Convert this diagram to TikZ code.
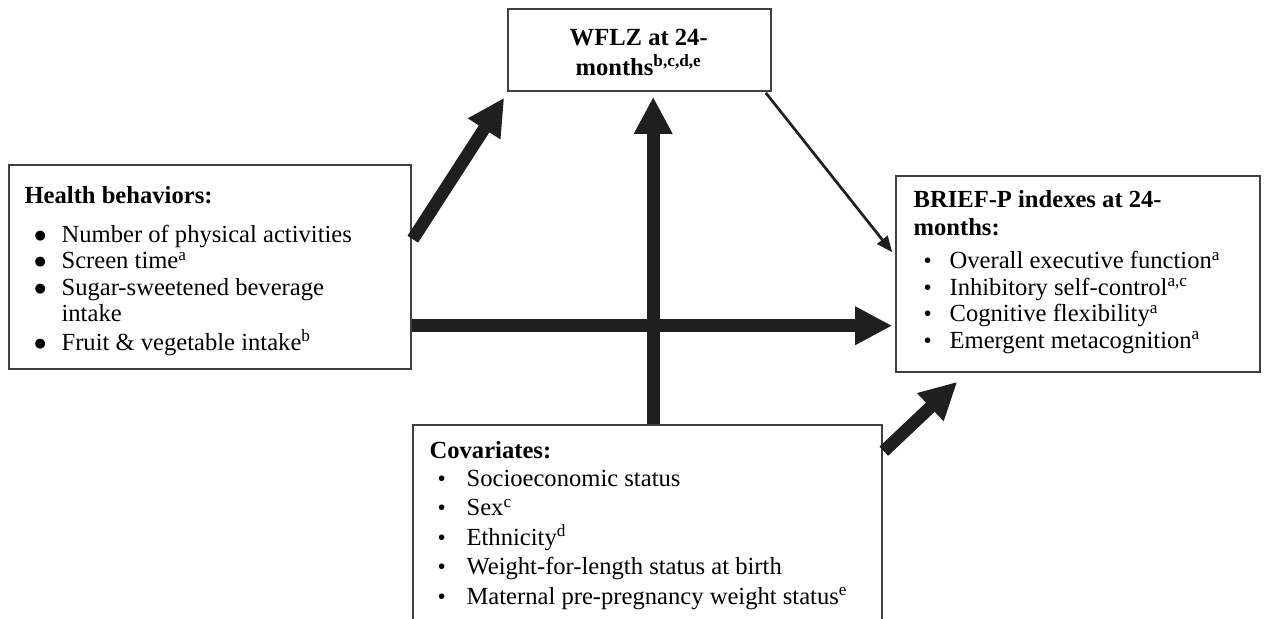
\documentclass[tikz,border=0pt]{standalone}
\usepackage{fontspec}
\usepackage{graphicx}
\setmainfont{Liberation Serif}
\newfontfamily\dejavu{DejaVu Sans}
\usetikzlibrary{arrows.meta,calc}
\newcommand\hbul{\makebox[18.5pt][l]{\hspace{5pt}\raisebox{1.4pt}{\dejavu\fontsize{6.5pt}{6.5pt}\selectfont ●}}}
\newcommand\rbul{\makebox[18pt][l]{\hspace{5pt}\raisebox{0pt}{\scalebox{0.95}{\textbullet}}}}
\newcommand\cbul{\makebox[18.5pt][l]{\hspace{4pt}\raisebox{0pt}{\scalebox{0.95}{\textbullet}}}}
\tikzset{
  box/.style={draw=black!75, line width=0.8pt, fill=white, inner sep=0pt},
  txt/.style={inner sep=0pt, anchor=base west},
  bigarrow/.style={line width=6.3pt, draw=black!88, -{Triangle[length=18.5pt,width=18pt]}},
  thinarrow/.style={line width=1.35pt, draw=black!88, -{Triangle[length=8pt,width=6.5pt]}}
}
\begin{document}
\begin{tikzpicture}[x=0.5pt,y=-0.5pt]
\useasboundingbox (0,0) rectangle (1264,618);
\fill[white] (0,0) rectangle (1264,618);
\begin{scope}
\clip (0,0) rectangle (1264,618);
% boxes
\node[box, minimum width=131.5pt, minimum height=41pt] (wflz) at (639.5,50) {};
\node[box, minimum width=201pt, minimum height=102pt] (hb) at (210,267) {};
\node[box, minimum width=182pt, minimum height=98pt] (brief) at (1078,274) {};
\node[box, minimum width=234.5pt, minimum height=115pt] (cov) at (647.5,540) {};
% texts
\node[inner sep=0pt, anchor=base] (wflzt) at ($(wflz.north west)+(131.5,37)$)
  {\fontsize{12.3pt}{13.25pt}\selectfont\begin{tabular}[t]{@{}c@{}}
  \textbf{WFLZ at 24-}\\[0.75pt]
  \textbf{months\textsuperscript{b,c,d,e}}
  \end{tabular}};
\node[txt] (hbt) at ($(hb.north west)+(16,39)$)
  {\fontsize{12.3pt}{13.25pt}\selectfont\begin{tabular}[t]{@{}l@{}}
  \textbf{Health behaviors:}\\[6.25pt]
  \hbul Number of physical activities\\
  \hbul Screen time\textsuperscript{a}\\
  \hbul Sugar-sweetened beverage\\
  \hspace{18.5pt}intake\\
  \hbul Fruit \& vegetable intake\textsuperscript{b}
  \end{tabular}};
\node[txt] (brieft) at ($(brief.north west)+(18,32)$)
  {\fontsize{12.3pt}{13.25pt}\selectfont\begin{tabular}[t]{@{}l@{}}
  \textbf{BRIEF-P indexes at 24-}\\[0.75pt]
  \textbf{months:}\\[3.5pt]
  \rbul Overall executive function\textsuperscript{a}\\
  \rbul Inhibitory self-control\textsuperscript{a,c}\\
  \rbul Cognitive flexibility\textsuperscript{a}\\
  \rbul Emergent metacognition\textsuperscript{a}
  \end{tabular}};
\node[txt] (covt) at ($(cov.north west)+(17,34)$)
  {\fontsize{12.3pt}{14.75pt}\selectfont\begin{tabular}[t]{@{}l@{}}
  \textbf{Covariates:}\\[-0.75pt]
  \cbul Socioeconomic status\\
  \cbul Sex\textsuperscript{c}\\
  \cbul Ethnicity\textsuperscript{d}\\
  \cbul Weight-for-length status at birth\\
  \cbul Maternal pre-pregnancy weight status\textsuperscript{e}
  \end{tabular}};
% arrows
\draw[bigarrow] ($(hb.north east)+(1,75)$) -- ($(wflz.south west)+(-3,6)$);
\draw[bigarrow] ($(cov.north west)+(241,0)$) -- ($(wflz.south west)+(146,5)$);
\draw[bigarrow] ($(hb.north east)+(0,161.5)$) -- ($(brief.north west)+(-3,150.5)$);
\draw[bigarrow] ($(cov.north east)+(1,27)$) -- ($(brief.south west)+(62,9)$);
\draw[thinarrow] ($(wflz.south east)+(-6,1)$) -- ($(brief.north west)+(-3,77)$);
\end{scope}
\end{tikzpicture}
\end{document}
